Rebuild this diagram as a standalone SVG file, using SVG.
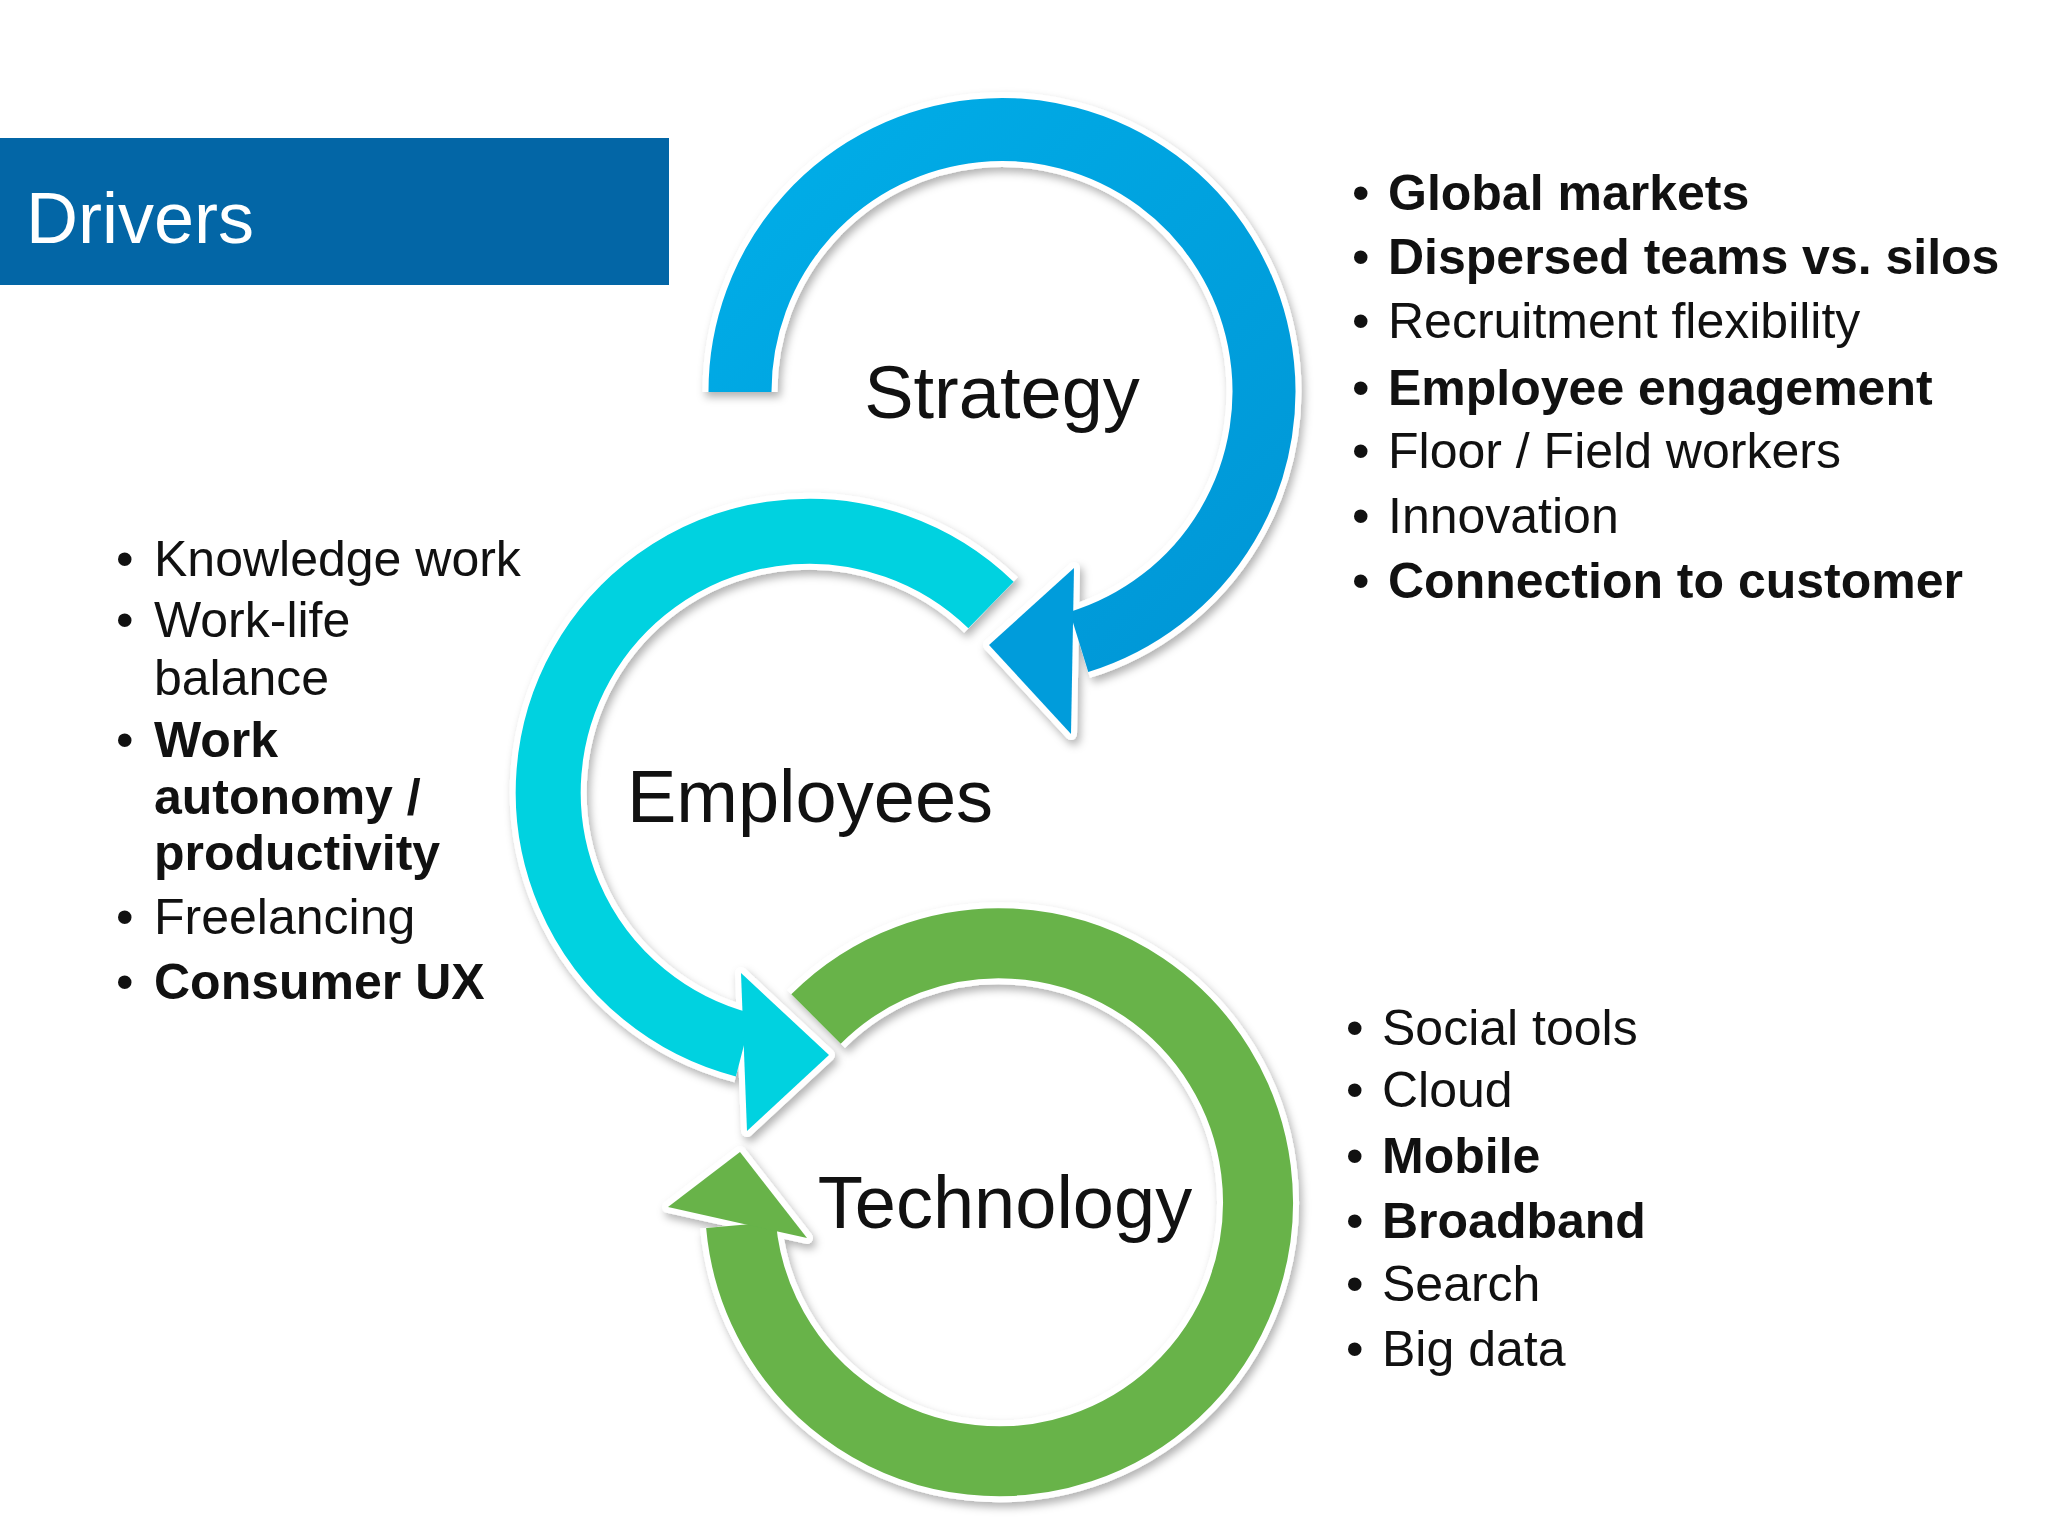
<svg xmlns="http://www.w3.org/2000/svg" width="2048" height="1536" viewBox="0 0 2048 1536">
<defs>
<style>
text{font-family:"Liberation Sans",Arial,sans-serif;fill:#111}
.lbl{font-size:74px;text-anchor:middle}
.li{font-size:50px}
.b{font-weight:bold}
.ring{fill:none;stroke-linecap:butt}
.edge{fill:none;stroke:#fff;stroke-linecap:butt}
</style>
<filter id="sh" x="-20%" y="-20%" width="140%" height="140%">
<feDropShadow dx="3" dy="5" stdDeviation="4" flood-color="#000" flood-opacity="0.3"/>
</filter>
<linearGradient id="gs" x1="0" y1="0" x2="1" y2="1"><stop offset="0" stop-color="#00AEE8"/><stop offset="1" stop-color="#0496D6"/></linearGradient>
</defs>
<rect width="2048" height="1536" fill="#fff"/>
<g id="header">
<rect x="0" y="138" width="669" height="147" fill="#0366A6"/>
<text x="26" y="243" style="font-size:72px;fill:#fff">Drivers</text>
</g>
<g id="connectors">
<g id="technology-ring" filter="url(#sh)">
<path class="edge" d="M816,1019 A259,259 0 1 1 741,1225" stroke-width="82"/>
<polygon points="668,1207 740,1152 807,1238" fill="#fff" stroke="#fff" stroke-width="12" stroke-linejoin="round"/>
<path class="ring" d="M816,1019 A259,259 0 1 1 741,1225" stroke="#67B34A" stroke-width="70"/>
<polygon points="668,1207 740,1152 807,1238" fill="#67B34A"/>
</g>
<g id="employees-ring" filter="url(#sh)">
<path class="edge" d="M991,605 A261,261 0 1 0 744,1045" stroke-width="77"/>
<polygon points="741,973 829,1055 747,1131" fill="#fff" stroke="#fff" stroke-width="12" stroke-linejoin="round"/>
<path class="ring" d="M991,605 A261,261 0 1 0 744,1045" stroke="#00D2E0" stroke-width="65"/>
<polygon points="741,973 829,1055 747,1131" fill="#00D2E0"/>
</g>
<g id="strategy-ring" filter="url(#sh)">
<path class="edge" d="M740,392 A262,262 0 1 1 1079,642" stroke-width="75"/>
<polygon points="1074,568 989,645 1071,734" fill="#fff" stroke="#fff" stroke-width="12" stroke-linejoin="round"/>
<path class="ring" d="M740,392 A262,262 0 1 1 1079,642" stroke="url(#gs)" stroke-width="63"/>
<polygon points="1074,568 989,645 1071,734" fill="#049CDB"/>
</g>
</g>
<g id="strategy"><text class="lbl" x="1002" y="418">Strategy</text></g>
<g id="employees"><text class="lbl" x="810" y="822">Employees</text></g>
<g id="technology"><text class="lbl" x="1005" y="1228">Technology</text></g>
<g id="strategy-list" class="li">
<text class="li" x="1352" y="210">•</text><text class="li b" x="1388" y="210">Global markets</text>
<text class="li" x="1352" y="274">•</text><text class="li b" x="1388" y="274">Dispersed teams vs. silos</text>
<text class="li" x="1352" y="338">•</text><text class="li" x="1388" y="338">Recruitment flexibility</text>
<text class="li" x="1352" y="405">•</text><text class="li b" x="1388" y="405">Employee engagement</text>
<text class="li" x="1352" y="468">•</text><text class="li" x="1388" y="468">Floor / Field workers</text>
<text class="li" x="1352" y="533">•</text><text class="li" x="1388" y="533">Innovation</text>
<text class="li" x="1352" y="598">•</text><text class="li b" x="1388" y="598">Connection to customer</text>
</g>
<g id="employees-list">
<text class="li" x="116" y="576">•</text><text class="li" x="154" y="576">Knowledge work</text>
<text class="li" x="116" y="637">•</text><text class="li" x="154" y="637">Work-life</text>
<text class="li" x="154" y="695">balance</text>
<text class="li" x="116" y="757">•</text><text class="li b" x="154" y="757">Work</text>
<text class="li b" x="154" y="814">autonomy /</text>
<text class="li b" x="154" y="870">productivity</text>
<text class="li" x="116" y="934">•</text><text class="li" x="154" y="934">Freelancing</text>
<text class="li" x="116" y="999">•</text><text class="li b" x="154" y="999">Consumer UX</text>
</g>
<g id="technology-list">
<text class="li" x="1346" y="1045">•</text><text class="li" x="1382" y="1045">Social tools</text>
<text class="li" x="1346" y="1107">•</text><text class="li" x="1382" y="1107">Cloud</text>
<text class="li" x="1346" y="1173">•</text><text class="li b" x="1382" y="1173">Mobile</text>
<text class="li" x="1346" y="1238">•</text><text class="li b" x="1382" y="1238">Broadband</text>
<text class="li" x="1346" y="1301">•</text><text class="li" x="1382" y="1301">Search</text>
<text class="li" x="1346" y="1366">•</text><text class="li" x="1382" y="1366">Big data</text>
</g>
</svg>
